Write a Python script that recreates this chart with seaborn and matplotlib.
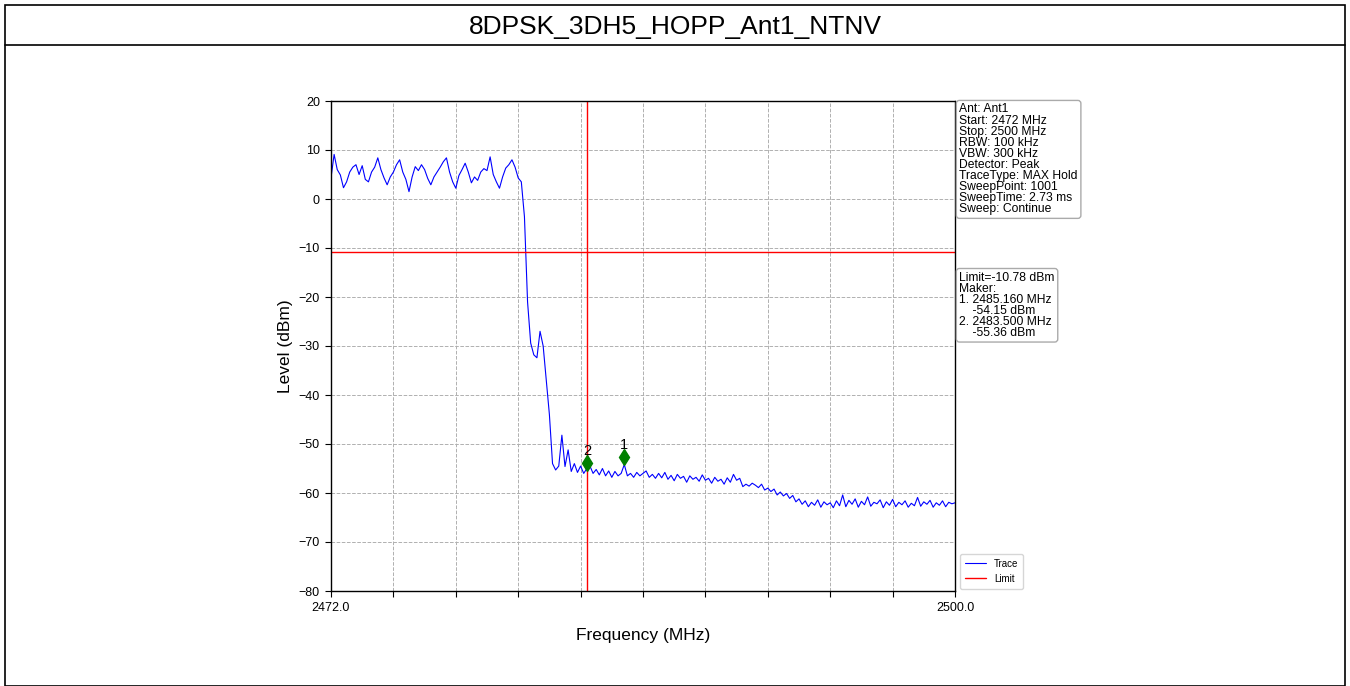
import numpy as np
import pandas as pd
import matplotlib
matplotlib.use("Agg")
import matplotlib.pyplot as plt
import seaborn as sns

# Dados (traço a cada 0.14 MHz, 2472 -> 2500 MHz)
freq_inicio = 2472.0
freq_fim = 2500.0
passo = 0.14
nivel = [
    4.3, 9.1, 6.0, 4.9, 2.3, 3.5, 5.5, 6.5, 7.0, 5.0,
    6.8, 4.0, 3.5, 5.5, 6.5, 8.4, 6.0, 4.3, 2.9, 4.5,
    5.5, 7.0, 8.0, 5.5, 4.0, 1.5, 4.5, 6.6, 5.8, 7.0,
    6.0, 4.2, 2.9, 4.5, 5.5, 6.5, 7.6, 8.4, 5.5, 3.5,
    2.2, 4.8, 6.0, 7.3, 5.5, 3.3, 4.5, 3.8, 5.5, 6.2,
    5.8, 8.6, 5.0, 3.5, 2.2, 4.5, 6.3, 7.0, 8.0, 6.5,
    4.3, 3.5, -3.6, -21.0, -29.4, -31.8, -32.4, -27.0, -30.0, -37.0,
    -44.0, -54.0, -55.3, -54.5, -48.2, -54.6, -51.2, -55.6, -54.0, -55.8,
    -54.5, -56.0, -55.0, -54.5, -56.0, -55.2, -56.3, -55.0, -56.5, -55.5,
    -56.8, -55.6, -56.5, -56.0, -54.2, -56.5, -56.0, -56.8, -55.8, -56.5,
    -56.0, -55.5, -56.8, -56.2, -57.0, -56.0, -56.9, -55.8, -57.2, -56.4,
    -57.5, -56.2, -57.0, -56.6, -57.8, -56.5, -57.2, -56.8, -57.6, -56.3,
    -57.4, -57.0, -58.0, -56.8, -57.6, -57.2, -58.2, -56.9, -57.8, -56.2,
    -57.4, -57.0, -58.7, -58.2, -58.6, -58.0, -58.4, -58.9, -58.2, -59.4,
    -59.0, -59.7, -59.2, -60.4, -59.8, -60.6, -60.1, -61.1, -60.5, -61.8,
    -61.2, -62.3, -61.6, -62.8, -61.9, -62.5, -61.4, -62.9, -61.8, -62.4,
    -62.0, -63.0, -61.6, -62.6, -60.4, -62.8, -61.5, -62.3, -61.2, -62.9,
    -61.7, -62.4, -60.8, -62.7, -61.9, -62.2, -61.4, -63.0, -61.8, -62.5,
    -61.3, -62.8, -61.9, -62.4, -61.6, -62.9, -62.1, -62.6, -60.9, -62.7,
    -61.8, -62.3, -61.5, -62.9, -62.0, -62.5, -61.6, -62.8, -61.9, -62.2,
    -62.0,
]
frequencia = [freq_inicio + passo * i for i in range(len(nivel))]

limite = -10.78
marcador_freq = [2485.16, 2483.50]
marcador_nivel = [-54.15, -55.36]
marcador_nome = ['1', '2']

titulo = '8DPSK_3DH5_HOPP_Ant1_NTNV'
info_texto = ('Ant: Ant1\nStart: 2472 MHz\nStop: 2500 MHz\nRBW: 100 kHz\n'
              'VBW: 300 kHz\nDetector: Peak\nTraceType: MAX Hold\n'
              'SweepPoint: 1001\nSweepTime: 2.73 ms\nSweep: Continue')
marcador_texto = ('Limit=-10.78 dBm\nMaker:\n1. 2485.160 MHz\n    -54.15 dBm\n'
                  '2. 2483.500 MHz\n    -55.36 dBm')

dados = pd.DataFrame({'Frequency': frequencia, 'Level': nivel})

sns.set_style('ticks')
plt.rcParams['font.family'] = ['Liberation Sans', 'DejaVu Sans']
plt.rcParams['text.color'] = 'black'
plt.rcParams['axes.labelcolor'] = 'black'
plt.rcParams['xtick.color'] = 'black'
plt.rcParams['ytick.color'] = 'black'

fig = plt.figure(figsize=(13.5, 6.86), dpi=100)
W, H = 1350, 686

# Moldura externa e faixa do título
fig.add_artist(plt.Rectangle((5 / W, 0), 1340 / W, 1 - 5 / H, transform=fig.transFigure,
                             fill=False, edgecolor='black', linewidth=1.2))
fig.add_artist(plt.Line2D([5 / W, 1345 / W], [1 - 45 / H, 1 - 45 / H],
                          transform=fig.transFigure, color='black', linewidth=1.2))
fig.text(0.5, 1 - 27 / H, titulo, ha='center', va='center', fontsize=19)

ax = fig.add_axes([331 / W, 1 - 591 / H, 624 / W, 490 / H])

sns.lineplot(data=dados, x='Frequency', y='Level', ax=ax, color='#0000ff',
             linewidth=0.8, label='Trace')
ax.axhline(limite, color='#ff0000', linewidth=1.0, label='Limit')
ax.axvline(marcador_freq[1], color='#ff0000', linewidth=1.0)

for f, v, nome in zip(marcador_freq, marcador_nivel, marcador_nome):
    ax.plot(f, v + 1.5, marker='d', color='green', markersize=8, linestyle='none')
    ax.text(f, v + 2.6, nome, ha='center', va='bottom', fontsize=10.5)

ax.set_xlim(freq_inicio, freq_fim)
ax.set_ylim(-80, 20)
ax.set_yticks(np.arange(-80, 21, 10))
ticks_x = np.linspace(freq_inicio, freq_fim, 11)
ax.set_xticks(ticks_x)
ax.set_xticklabels(['2472.0'] + [''] * 9 + ['2500.0'])
ax.tick_params(labelsize=9, length=4.5, color='black', labelcolor='black')
ax.grid(True, linestyle='--', color='#b0b0b0', linewidth=0.7)
for s in ax.spines.values():
    s.set_color('black')
    s.set_linewidth(1)

ax.set_xlabel('Frequency (MHz)', fontsize=12.5, labelpad=10)
ax.set_ylabel('Level (dBm)', fontsize=12.5)

caixa = dict(boxstyle='round,pad=0.25', facecolor='white', edgecolor='#aaaaaa', linewidth=1)
ax.text(1.007, 0.995, info_texto, transform=ax.transAxes, va='top', ha='left',
        fontsize=8.7, linespacing=0.9, bbox=caixa)
ax.text(1.007, 0.652, marcador_texto, transform=ax.transAxes, va='top', ha='left',
        fontsize=8.7, linespacing=0.9, bbox=caixa)

ax.legend(loc='lower left', bbox_to_anchor=(1.0, -0.005), fontsize=7,
          frameon=True, handlelength=2.2, borderpad=0.5)

fig.savefig('out.png', dpi=100)
